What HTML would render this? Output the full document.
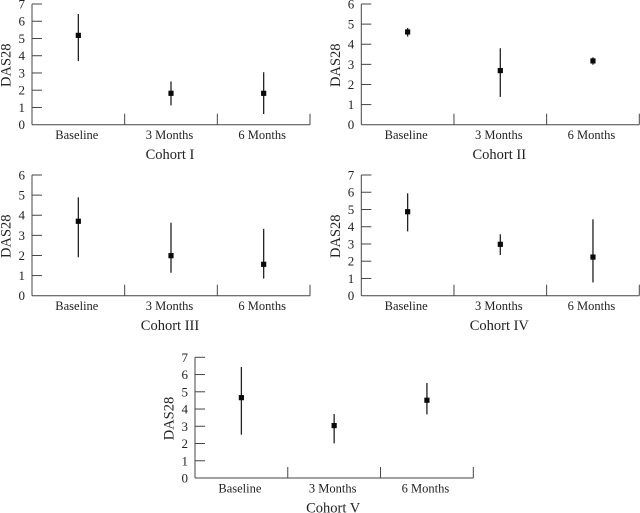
<!DOCTYPE html>
<html lang="en">
<head>
<meta charset="utf-8">
<title>DAS28 by cohort</title>
<style>
html,body{margin:0;padding:0;background:#fff;width:640px;height:513px;overflow:hidden}
svg{display:block}
text{font-family:"Liberation Serif",serif;fill:#222}
.tick-text{font-size:13px}
.cat-text{font-size:12.5px}
.title-text{font-size:14.5px}
.ylab-text{font-size:14.5px}
</style>
</head>
<body>
<svg id="chart" width="640" height="513" viewBox="0 0 640 513" xmlns="http://www.w3.org/2000/svg"></svg>
<script>
const categories = ['Baseline', '3 Months', '6 Months'];
const cohortNames = ['Cohort I', 'Cohort II', 'Cohort III', 'Cohort IV', 'Cohort V'];
const yMaxValues = [7, 6, 6, 7, 7];

const meansI = [5.18, 1.82, 1.82];
const lowsI = [3.69, 1.12, 0.62];
const highsI = [6.42, 2.51, 3.04];

const meansII = [4.61, 2.69, 3.17];
const lowsII = [4.38, 1.38, 2.98];
const highsII = [4.81, 3.80, 3.35];

const meansIII = [3.70, 1.99, 1.56];
const lowsIII = [1.91, 1.14, 0.85];
const highsIII = [4.89, 3.63, 3.32];

const meansIV = [4.87, 2.98, 2.24];
const lowsIV = [3.73, 2.36, 0.77];
const highsIV = [5.94, 3.56, 4.43];

const meansV = [4.66, 3.04, 4.51];
const lowsV = [2.51, 2.01, 3.69];
const highsV = [6.44, 3.71, 5.51];

const allMeans = [meansI, meansII, meansIII, meansIV, meansV];
const allLows = [lowsI, lowsII, lowsIII, lowsIV, lowsV];
const allHighs = [highsI, highsII, highsIII, highsIV, highsV];

/* Panel frames (layout only) */
const frames = [
  {left: 32, right: 310, bottom: 124.7, top: 4},
  {left: 361.3, right: 639.3, bottom: 124.7, top: 4},
  {left: 32, right: 310, bottom: 295.7, top: 175},
  {left: 361.3, right: 639.3, bottom: 295.7, top: 175},
  {left: 195, right: 473.3, bottom: 478, top: 357.3}
];

const NS = 'http://www.w3.org/2000/svg';
const AXIS = '#444';
const root = document.getElementById('chart');

function make(parent, tag, attrs, text) {
  const el = document.createElementNS(NS, tag);
  for (const k in attrs) el.setAttribute(k, attrs[k]);
  if (text !== undefined) el.textContent = text;
  parent.appendChild(el);
  return el;
}

function drawPanel(i) {
  const f = frames[i];
  const yMax = yMaxValues[i];
  const bandW = (f.right - f.left) / categories.length;
  const xBand = c => f.left + bandW * (c + 0.5);
  const xEdge = c => f.left + bandW * (c + 1);
  const yScale = v => f.bottom - (v / yMax) * (f.bottom - f.top);

  const g = make(root, 'g', {});
  
  

  const yAxis = make(g, 'line', {x1: f.left, x2: f.left, y1: f.top, y2: f.bottom, stroke: AXIS, 'stroke-width': 1});
  
  

  const xAxis = make(g, 'line', {x1: f.left, x2: f.right, y1: f.bottom, y2: f.bottom, stroke: AXIS, 'stroke-width': 1});
  
  

  for (let v = 0; v <= yMax; v++) {
    if (v > 0) {
      const t = make(g, 'line', {x1: f.left, x2: f.left + 10, y1: yScale(v), y2: yScale(v), stroke: AXIS, 'stroke-width': 1});
      
      
    }
    const lab = make(g, 'text', {x: f.left - 7, y: yScale(v) + 4.5, 'text-anchor': 'end', class: 'tick-text'}, String(v));
    
    
  }

  categories.forEach((cat, c) => {
    const ex = xEdge(c);
    const sep = make(g, 'line', {x1: ex, x2: ex, y1: f.bottom - 11, y2: f.bottom, stroke: AXIS, 'stroke-width': 1});
    
    

    const lab = make(g, 'text', {x: xBand(c) - 1.5, y: f.bottom + 14.5, 'text-anchor': 'middle', class: 'cat-text'}, cat);
    
    

    const px = xBand(c);
    const bar = make(g, 'line', {x1: px, x2: px, y1: yScale(allHighs[i][c]), y2: yScale(allLows[i][c]), stroke: '#222', 'stroke-width': 1.3});
    
    

    const my = yScale(allMeans[i][c]);
    const mark = make(g, 'rect', {x: px - 2.6, y: my - 2.6, width: 5.2, height: 5.2, fill: '#0a0a0a'});
    
    
  });

  const cx = f.left - 21.5;
  const cy = f.bottom - 59.5;
  const yl = make(g, 'text', {x: cx, y: cy, 'text-anchor': 'middle', transform: 'rotate(-90 ' + cx + ' ' + cy + ')', class: 'ylab-text'}, 'DAS28');
  
  

  const title = make(g, 'text', {x: (f.left + f.right) / 2 - 1, y: f.bottom + 34.5, 'text-anchor': 'middle', class: 'title-text'}, cohortNames[i]);
  
  
}

cohortNames.forEach((_, i) => drawPanel(i));
</script>
</body>
</html>
